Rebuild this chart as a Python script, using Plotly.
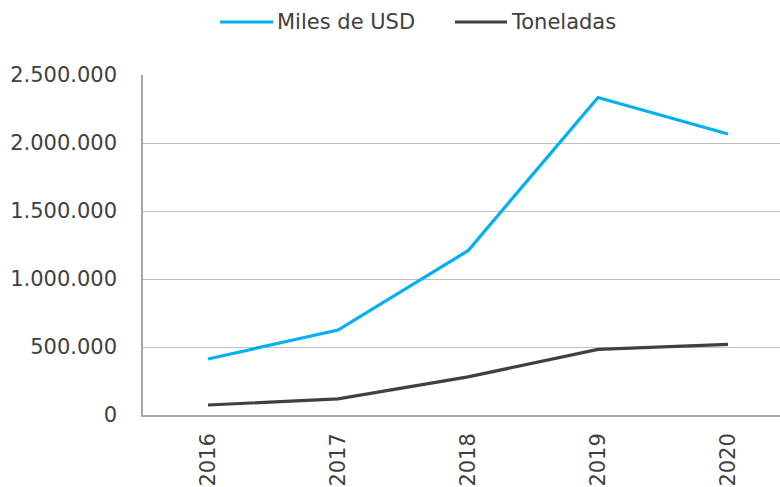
import plotly.graph_objects as go

years = ["2016", "2017", "2018", "2019", "2020"]
miles_usd = [412000, 625000, 1208000, 2334000, 2066000]
toneladas = [73500, 118000, 280000, 483000, 520000]
y_ticks = [0, 500000, 1000000, 1500000, 2000000, 2500000]
y_tick_labels = ["0", "500.000", "1.000.000", "1.500.000", "2.000.000", "2.500.000"]

series = [("Miles de USD", miles_usd, "#00B0F0"), ("Toneladas", toneladas, "#404040")]

W, H = 780, 487
L, R, T, B = 143, 0, 75, 72
pw, ph = W - L - R, H - T - B

fig = go.Figure()
for name, vals, col in series:
    fig.add_trace(go.Scatter(x=years, y=vals, name=name, mode="lines",
                             line=dict(color=col, width=3.2), showlegend=False))

# legend drawn by hand (longer line samples like the original)
def px(x):
    return (x - L) / pw

leg_y = 1 + (T - 22) / ph
for (name, vals, col), (x0, x1) in zip(series, [(220, 273), (455, 507)]):
    fig.add_shape(type="line", xref="paper", yref="paper", x0=px(x0), x1=px(x1),
                  y0=leg_y, y1=leg_y, line=dict(color=col, width=3.2))
    fig.add_annotation(xref="paper", yref="paper", x=px(x1 + 2), y=leg_y,
                       text=name, showarrow=False, xanchor="left", yanchor="middle",
                       font=dict(size=21, color="#404040"))

fig.update_layout(
    width=W, height=H,
    margin=dict(l=L, r=R, t=T, b=B),
    paper_bgcolor="white", plot_bgcolor="white",
    font=dict(family="DejaVu Sans", size=21, color="#404040"),
    showlegend=False,
)
# the original plot area runs a bit past the right edge of the image
fig.update_xaxes(type="category", range=[-0.5, 4.4], tickangle=-90,
                 showgrid=False, showline=True, linecolor="#a6a6a6", linewidth=1.5,
                 ticks="", ticklabelstandoff=8, automargin=False)
fig.update_yaxes(range=[0, 2500000], tickvals=y_ticks, ticktext=y_tick_labels,
                 showgrid=True, gridcolor="#c0c0c0", gridwidth=1.2,
                 showline=True, linecolor="#a6a6a6", linewidth=1.5,
                 zeroline=False, ticks="", ticklabelstandoff=20, automargin=False)

# page body has a default 8px margin; drop it so the figure sits at 0,0
fig.write_html("out.html", config={"displayModeBar": False},
               post_script="document.body.style.margin='0';")
